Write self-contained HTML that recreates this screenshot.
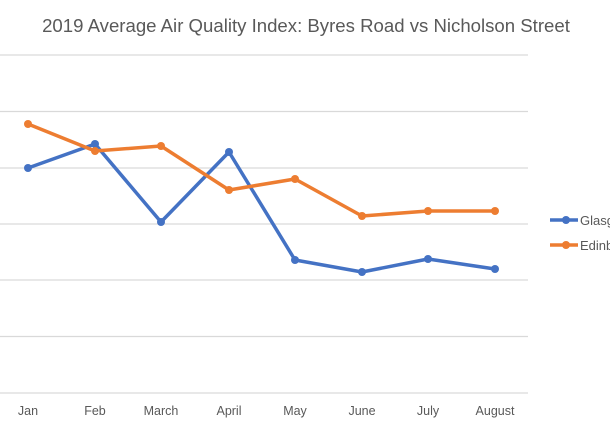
<!DOCTYPE html>
<html><head><style>
body{margin:0;background:#fff;}
svg{display:block;font-family:"Liberation Sans",sans-serif;}
</style></head><body>
<svg width="610" height="427" viewBox="0 0 610 427">
<rect width="610" height="427" fill="#fff"/>
<text x="306" y="32" text-anchor="middle" font-size="18.6" fill="#595959">2019 Average Air Quality Index: Byres Road vs Nicholson Street</text>
<g stroke="#d9d9d9" stroke-width="1.3">
<line x1="0" x2="528" y1="55" y2="55"/><line x1="0" x2="528" y1="111.5" y2="111.5"/>
<line x1="0" x2="528" y1="168" y2="168"/><line x1="0" x2="528" y1="224" y2="224"/>
<line x1="0" x2="528" y1="280" y2="280"/><line x1="0" x2="528" y1="336.5" y2="336.5"/>
<line x1="0" x2="528" y1="393" y2="393"/>
</g>
<polyline fill="none" stroke="#4472c4" stroke-width="3.5" stroke-linejoin="round" points="28,168 95,144 161,222 229,152 295,260 362,272 428,259 495,269"/>
<g fill="#4472c4"><circle cx="28" cy="168" r="4"/><circle cx="95" cy="144" r="4"/><circle cx="161" cy="222" r="4"/><circle cx="229" cy="152" r="4"/><circle cx="295" cy="260" r="4"/><circle cx="362" cy="272" r="4"/><circle cx="428" cy="259" r="4"/><circle cx="495" cy="269" r="4"/></g>
<polyline fill="none" stroke="#ed7d31" stroke-width="3.5" stroke-linejoin="round" points="28,124 95,151 161,146 229,190 295,179 362,216 428,211 495,211"/>
<g fill="#ed7d31"><circle cx="28" cy="124" r="4"/><circle cx="95" cy="151" r="4"/><circle cx="161" cy="146" r="4"/><circle cx="229" cy="190" r="4"/><circle cx="295" cy="179" r="4"/><circle cx="362" cy="216" r="4"/><circle cx="428" cy="211" r="4"/><circle cx="495" cy="211" r="4"/></g>
<g font-size="12.5" fill="#595959" text-anchor="middle">
<text x="28" y="415">Jan</text><text x="95" y="415">Feb</text><text x="161" y="415">March</text><text x="229" y="415">April</text><text x="295" y="415">May</text><text x="362" y="415">June</text><text x="428" y="415">July</text><text x="495" y="415">August</text>
</g>
<line x1="550" x2="578" y1="220" y2="220" stroke="#4472c4" stroke-width="3.5"/><circle cx="566" cy="220" r="4" fill="#4472c4"/>
<line x1="550" x2="578" y1="245" y2="245" stroke="#ed7d31" stroke-width="3.5"/><circle cx="566" cy="245" r="4" fill="#ed7d31"/>
<g font-size="13" fill="#595959"><text x="580" y="225">Glasgow</text><text x="580" y="250">Edinburgh</text></g>
</svg>
</body></html>
